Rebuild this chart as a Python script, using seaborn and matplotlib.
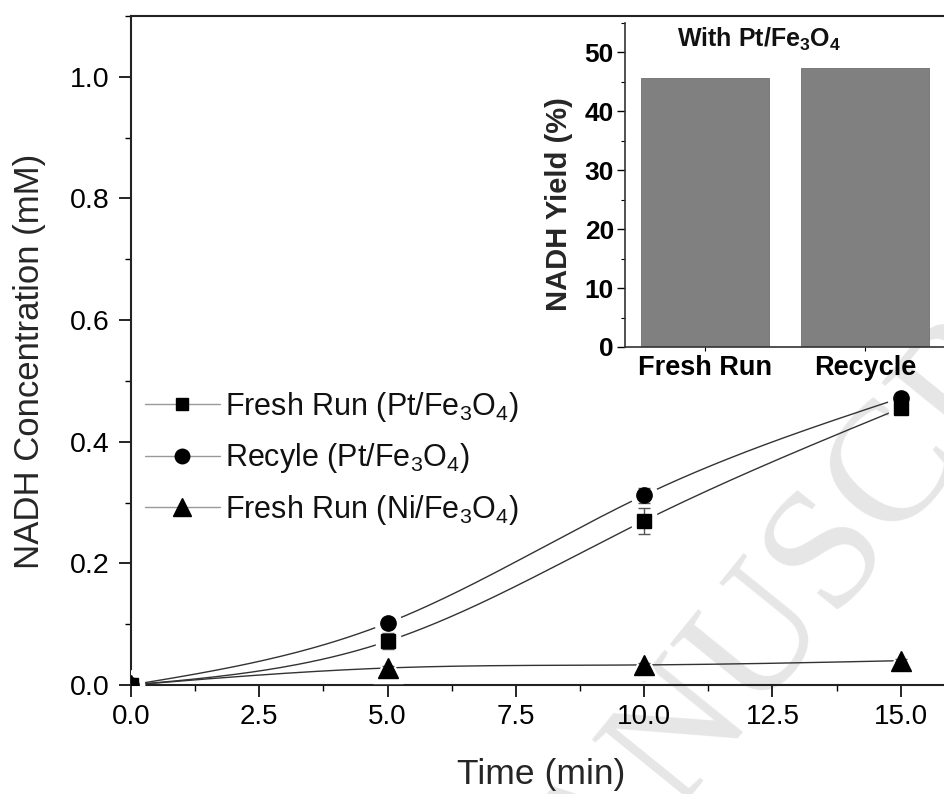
import numpy as np
import pandas as pd
import matplotlib
matplotlib.use('Agg')
import matplotlib.pyplot as plt
from matplotlib.lines import Line2D
from matplotlib.ticker import MultipleLocator, FormatStrFormatter
import seaborn as sns

# values
time_min = [0, 5, 10, 15]
fresh_pt = [0.0, 0.072, 0.270, 0.455]
fresh_pt_err = [0.0, 0.013, 0.021, 0.010]
recycle_pt = [0.0, 0.102, 0.312, 0.472]
recycle_pt_err = [0.0, 0.008, 0.012, 0.008]
fresh_ni = [0.0, 0.028, 0.033, 0.040]
fresh_ni_err = [0.0, 0.003, 0.003, 0.003]

series_labels = ['Fresh Run (Pt/Fe$_3$O$_4$)',
                 'Recyle (Pt/Fe$_3$O$_4$)',
                 'Fresh Run (Ni/Fe$_3$O$_4$)']

inset_cats = ['Fresh Run', 'Recycle']
inset_yield = [45.7, 47.4]


def spline(x, y, n=200):
    # natural cubic spline through the points (origin style "spline" connect)
    x = np.asarray(x, float)
    y = np.asarray(y, float)
    h = np.diff(x)
    k = len(x)
    A = np.zeros((k, k))
    b = np.zeros(k)
    A[0, 0] = A[-1, -1] = 1
    for i in range(1, k - 1):
        A[i, i - 1] = h[i - 1]
        A[i, i] = 2 * (h[i - 1] + h[i])
        A[i, i + 1] = h[i]
        b[i] = 6 * ((y[i + 1] - y[i]) / h[i] - (y[i] - y[i - 1]) / h[i - 1])
    M = np.linalg.solve(A, b)
    xs = np.linspace(x[0], x[-1], n)
    idx = np.clip(np.searchsorted(x, xs) - 1, 0, k - 2)
    x0, x1 = x[idx], x[idx + 1]
    hh = x1 - x0
    t0 = x1 - xs
    t1 = xs - x0
    ys = ((M[idx] * t0**3 + M[idx + 1] * t1**3) / (6 * hh)
          + (y[idx] / hh - M[idx] * hh / 6) * t0
          + (y[idx + 1] / hh - M[idx + 1] * hh / 6) * t1)
    return xs, ys


sns.set_theme(style='ticks')
plt.rcParams['font.family'] = ['Liberation Sans', 'DejaVu Sans']
plt.rcParams['mathtext.fontset'] = 'custom'
plt.rcParams['mathtext.rm'] = 'Liberation Sans'
plt.rcParams['mathtext.it'] = 'Liberation Sans:italic'
plt.rcParams['mathtext.bf'] = 'Liberation Sans:bold'
plt.rcParams['axes.edgecolor'] = 'black'
plt.rcParams['xtick.color'] = 'black'
plt.rcParams['ytick.color'] = 'black'
plt.rcParams['text.color'] = '#111111'

W, H = 945, 794
fig = plt.figure(figsize=(W / 100, H / 100), dpi=100)

# watermark
fig.text(818 / W, 1 - 568 / H, 'MANUSCRIPT', rotation=51, fontsize=124,
         family='Liberation Serif', color='#e6e6e6', ha='center', va='center',
         rotation_mode='anchor', zorder=-5)

ax = fig.add_axes([131 / W, 109 / H, (952 - 131) / W, 669 / H])
ax.set_facecolor('none')

markers = ['s', 'o', '^']
sizes = [9.5, 11, 14]
ys_all = [fresh_pt, recycle_pt, fresh_ni]
errs_all = [fresh_pt_err, recycle_pt_err, fresh_ni_err]

for y, m in zip(ys_all, markers):
    xs, ys = spline(time_min, y)
    sns.lineplot(x=xs, y=ys, ax=ax, color='#333333', lw=1.0, sort=False,
                 estimator=None, zorder=2)

# white halo so the lines stop short of the symbols
for y, m, s in zip(ys_all, markers, sizes):
    ax.plot(time_min, y, ls='none', marker=m, ms=s + 8, mfc='white',
            mec='white', zorder=3)

for y, e, m, s in zip(ys_all, errs_all, markers, sizes):
    ax.errorbar(time_min, y, yerr=e, fmt=m, ms=s, mfc='black', mec='black',
                ecolor='#555555', elinewidth=1.0, capsize=4, capthick=1.0,
                zorder=4)

ax.set_xlim(0, 16)
ax.set_ylim(0, 1.1)
ax.xaxis.set_major_locator(MultipleLocator(2.5))
ax.xaxis.set_minor_locator(MultipleLocator(1.25))
ax.yaxis.set_major_locator(MultipleLocator(0.2))
ax.yaxis.set_minor_locator(MultipleLocator(0.1))
ax.xaxis.set_major_formatter(FormatStrFormatter('%.1f'))
ax.yaxis.set_major_formatter(FormatStrFormatter('%.1f'))
ax.tick_params(which='major', direction='out', length=8.5, width=1.2,
               labelsize=20, colors='black')
ax.tick_params(axis='x', which='major', pad=5)
ax.tick_params(axis='y', which='major', pad=7, labelsize=20.5)
ax.tick_params(which='minor', direction='out', length=4.5, width=1.0)
for sp in ax.spines.values():
    sp.set_linewidth(1.5)
    sp.set_color('#222222')

ax.set_xlabel('Time (min)', fontsize=25.5)
ax.set_ylabel('NADH Concentration (mM)', fontsize=25)
ax.xaxis.set_label_coords(0.5, -0.109)
ax.yaxis.set_label_coords(-0.104, 0.484)

handles = [Line2D([], [], color='#999999', lw=1.0, marker=m, ms=s * 0.95,
                  mfc='black', mec='black')
           for m, s in zip(markers, sizes)]
leg = ax.legend(handles, series_labels, loc='upper left',
                bbox_to_anchor=(145 / W, 1 - 390 / H),
                bbox_transform=fig.transFigure, frameon=False, fontsize=22,
                handlelength=2.45, handletextpad=0.18, labelspacing=0.57,
                borderpad=0, borderaxespad=0, numpoints=1)

# inset bar chart
axin = fig.add_axes([625 / W, 1 - 347 / H, 320 / W, 324 / H])
axin.set_facecolor('none')
inset_df = pd.DataFrame({'run': inset_cats, 'yield': inset_yield})
sns.barplot(data=inset_df, x='run', y='yield', ax=axin, color='#808080',
            saturation=1, width=0.8, edgecolor='#6f6f6f', linewidth=0.6)
axin.set_xlim(-0.5, 1.5)
axin.set_ylim(0, 55)
axin.yaxis.set_major_locator(MultipleLocator(10))
axin.yaxis.set_minor_locator(MultipleLocator(5))
axin.spines['top'].set_visible(False)
axin.spines['right'].set_visible(False)
for sp in ['left', 'bottom']:
    axin.spines[sp].set_linewidth(1.2)
    axin.spines[sp].set_color('#333333')
axin.tick_params(axis='y', which='major', direction='out', length=6,
                 width=1.0, labelsize=19, pad=2)
axin.tick_params(axis='y', which='minor', direction='out', length=3,
                 width=0.8)
axin.tick_params(axis='x', which='major', direction='out', length=3,
                 width=0.8, labelsize=19.5, pad=3)
for lab in axin.get_xticklabels() + axin.get_yticklabels():
    lab.set_fontweight('bold')
axin.set_xlabel('')
axin.set_ylabel('NADH Yield (%)', fontsize=21, fontweight='bold')
axin.yaxis.set_label_coords(-0.163, 0.44)
axin.text(0.42, 0.95, r'With Pt/Fe$_\mathbf{3}$O$_\mathbf{4}$',
          transform=axin.transAxes, ha='center', va='center',
          fontsize=18, fontweight='bold')

fig.savefig('out.png', dpi=100)
